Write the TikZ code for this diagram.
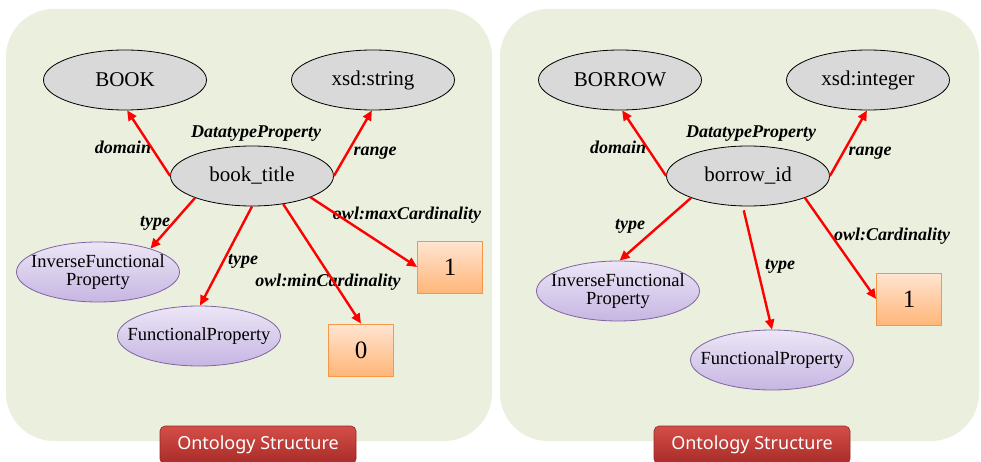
\documentclass[tikz,border=0pt]{standalone}
\usepackage{fontspec}
\setmainfont{Liberation Serif}
\newfontfamily\btnfont{Noto Sans}
\usetikzlibrary{arrows.meta,shapes.geometric}

\definecolor{panelbg}{RGB}{235,239,222}
\definecolor{classfill}{RGB}{217,217,217}
\definecolor{lavtop}{RGB}{236,230,246}
\definecolor{lavbot}{RGB}{198,182,226}
\definecolor{lavline}{RGB}{128,100,162}
\definecolor{ortop}{RGB}{255,229,210}
\definecolor{orbot}{RGB}{255,182,120}
\definecolor{orline}{RGB}{247,150,70}
\definecolor{btntop}{RGB}{212,78,72}
\definecolor{btnbot}{RGB}{168,44,40}
\definecolor{btnline}{RGB}{150,40,36}

\tikzset{
  panel/.style={fill=panelbg, rounded corners=48pt},
  cls/.style={ellipse, draw=black, line width=0.8pt, fill=classfill,
    minimum width=163pt, minimum height=60pt, inner xsep=-30pt, inner ysep=-10pt,
    font=\fontsize{21}{24}\selectfont},
  kind/.style={ellipse, draw=lavline, line width=0.8pt,
    top color=lavtop, bottom color=lavbot,
    minimum width=163pt, minimum height=60pt, inner xsep=-30pt, inner ysep=-12pt,
    align=center, font=\fontsize{18.5}{21}\selectfont},
  card/.style={rectangle, draw=orline, line width=0.8pt,
    top color=ortop, bottom color=orbot,
    minimum width=65pt, minimum height=52pt, inner sep=0pt,
    font=\fontsize{25}{28}\selectfont},
  lbl/.style={font=\fontsize{18}{20}\selectfont\bfseries\itshape, inner sep=0pt},
  rel/.style={draw=red, line width=2.4pt, -{Triangle[length=10pt,width=9pt]}},
  btn/.style={rectangle, rounded corners=5pt, draw=btnline, line width=0.6pt,
    top color=btntop, bottom color=btnbot, text=white,
    minimum width=196pt, minimum height=38pt, inner sep=0pt,
    font=\btnfont\fontsize{18}{21}\selectfont},
}

\begin{document}
\begin{tikzpicture}[x=1pt,y=-1pt]
\useasboundingbox (0,0) rectangle (981,462);

% ---- left panel: book_title ----
\fill[panel] (6,9) rectangle (492,441);

\node[cls] (book) at (125,80) {BOOK};
\node[cls] (xstr) at (373,80) {xsd:string};
\node[cls] (bt)   at (252,176) {book\_title};
\node[kind] (ifp1) at (98,272) {InverseFunctional\\[-3pt]Property};
\node[kind] (fp1)  at (199,336) {FunctionalProperty};
\node[card] (max1) at (450,267) {1};
\node[card] (min0) at (361,350) {0};

\node[lbl] (dt1)   at (256,134) {DatatypeProperty};
\node[lbl] (dom1)  at (123,147) {domain};
\node[lbl] (rng1)  at (375,153) {range};
\node[lbl] (ty1a)  at (155,223) {type};
\node[lbl] (ty1b)  at (243,261) {type};
\node[lbl] (mxl)   at (407,215) {owl:maxCardinality};
\node[lbl] (mnl)   at (328,282) {owl:minCardinality};

\draw[rel] (bt.180) -- (book.274);
\draw[rel] (bt.0)   -- (xstr.268);
\draw[rel] (bt.201) -- (ifp1.24);
\draw[rel] (bt.270) -- (fp1.88);
\draw[rel] (bt.318) -- (min0.north);
\draw[rel] (bt.340) -- (max1.west);

\node[btn] (btn1) at (258,445) {Ontology Structure};

% ---- right panel: borrow_id ----
\fill[panel] (500,9) rectangle (979,441);

\node[cls] (borrow) at (620,80) {BORROW};
\node[cls] (xint)   at (868,80) {xsd:integer};
\node[cls] (bi)     at (748,176) {borrow\_id};
\node[kind] (ifp2) at (618,291) {InverseFunctional\\[-3pt]Property};
\node[kind] (fp2)  at (772,360) {FunctionalProperty};
\node[card] (c1)   at (909,299) {1};

\node[lbl] (dt2)  at (751,134) {DatatypeProperty};
\node[lbl] (dom2) at (618,147) {domain};
\node[lbl] (rng2) at (870,153) {range};
\node[lbl] (ty2a) at (630,226) {type};
\node[lbl] (ty2b) at (780,266) {type};
\node[lbl] (cdl)  at (892,236) {owl:Cardinality};

\draw[rel] (bi.180) -- (borrow.274);
\draw[rel] (bi.0)   -- (xint.268);
\draw[rel] (bi.201) -- (ifp2.87);
\draw[rel] ([yshift=-4pt]bi.262) -- (fp2.north);
\draw[rel] (bi.339) -- (c1.west);

\node[btn] (btn2) at (752,445) {Ontology Structure};
\end{tikzpicture}
\end{document}
